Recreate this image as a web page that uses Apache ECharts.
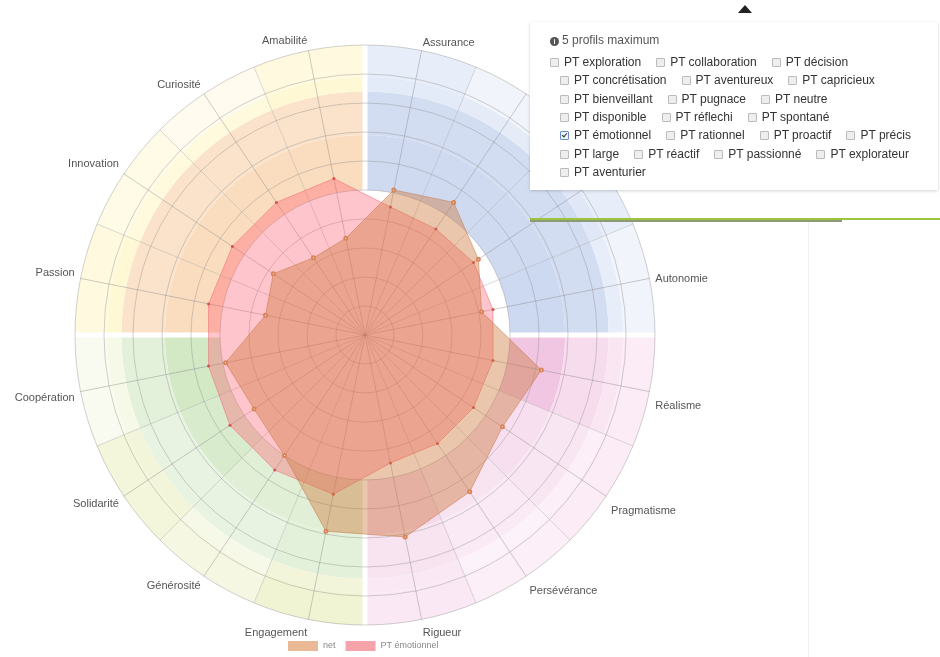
<!DOCTYPE html>
<html><head><meta charset="utf-8">
<script src="https://cdn.jsdelivr.net/npm/echarts@6/dist/echarts.min.js"></script>
<style>
html,body{margin:0;padding:0;background:#fff;width:940px;height:657px;overflow:hidden;font-family:"Liberation Sans",Arial,sans-serif;}
#chart{position:absolute;left:0;top:0;width:940px;height:657px;}
#popup{position:absolute;left:530px;top:22px;width:408px;height:168px;background:#fff;box-shadow:0 1px 3px rgba(0,0,0,0.18);}
.row{position:absolute;height:16px;line-height:16px;font-size:12px;color:#333;white-space:nowrap;}
.item{display:inline-block;margin-right:15px;}
.cb{display:inline-block;width:7px;height:7px;border:1px solid #bbb;background:#eee;border-radius:1px;vertical-align:-1px;margin-right:5px;position:relative;}
.cb.on{border-color:#6a8fc8;background:#eef3fb;}
.cb.on:after{content:"";position:absolute;left:2px;top:0px;width:2px;height:4px;border:solid #333;border-width:0 1.5px 1.5px 0;transform:rotate(40deg);}
#head{position:absolute;left:550px;top:32px;font-size:12px;color:#555;line-height:16px;white-space:nowrap;}
#head .ic{display:inline-block;width:9px;height:9px;border-radius:50%;background:#555;color:#fff;font-size:7px;line-height:9px;text-align:center;font-weight:bold;margin-right:3px;vertical-align:0px;}
#green1{position:absolute;left:530px;top:218px;width:410px;height:2px;background:#9cc43e;}
#green2{position:absolute;left:530px;top:220px;width:312px;height:2px;background:#8c9a78;}
#vline{position:absolute;left:808px;top:222px;width:1px;height:435px;background:#efefef;}
#arrow{position:absolute;left:738px;top:5px;width:0;height:0;border-left:7px solid transparent;border-right:7px solid transparent;border-bottom:8px solid #222;}
</style>
</head>
<body>
<div id="chart"></div>
<div id="vline"></div>
<div id="arrow"></div>
<div id="popup"></div>
<div id="head"><span class="ic">i</span>5 profils maximum</div>
<div id="green1"></div><div id="green2"></div>
<script>
// Axis names, clockwise from top-right (two axes hidden behind the panel)
const axisNames = ['Assurance','','','Autonomie','Réalisme','Pragmatisme','Persévérance','Rigueur','Engagement','Générosité','Solidarité','Coopération','Passion','Innovation','Curiosité','Amabilité'];
const netValues = [5.1,5.5,4.7,4.1,6.2,5.7,6.5,7.1,6.9,5.0,4.6,4.9,3.5,3.8,3.2,3.4];
const emoValues = [4.5,4.4,4.5,4.5,4.5,4.5,4.5,4.5,5.6,5.6,5.6,5.5,5.5,5.5,5.5,5.5];
const maxValue = 10;
// background bands (radius edges) and their shade per sector (inner -> outer)
const bandEdges = [5, 6.9, 8.4, 8.9, 10];
const bandShade = [
  [0.72,0.66,0.5,0.4],[0.72,0.66,0.45,0.25],[0.72,0.66,0.55,0.4],[0.75,0.66,0.4,0.25],
  [0.8,0.5,0.4,0.3],[0.45,0.35,0.25,0.3],[0.4,0.3,0.2,0.25],[0.55,0.4,0.35,0.35],
  [0.5,0.5,0.5,0.6],[0.5,0.4,0.3,0.4],[0.6,0.4,0.5,0.5],[0.7,0.5,0.3,0.2],
  [0.7,0.6,0.5,0.4],[0.7,0.6,0.4,0.3],[0.7,0.6,0.4,0.2],[0.7,0.6,0.5,0.4]
];
const quadrantNames = ['q1','q2','q3','q4'];
const profileRows = [
  ['PT exploration','PT collaboration','PT décision'],
  ['PT concrétisation','PT aventureux','PT capricieux'],
  ['PT bienveillant','PT pugnace','PT neutre'],
  ['PT disponible','PT réflechi','PT spontané'],
  ['PT émotionnel','PT rationnel','PT proactif','PT précis'],
  ['PT large','PT réactif','PT passionné','PT explorateur'],
  ['PT aventurier']
];
const checkedProfiles = ['PT émotionnel'];

// ---- panel
profileRows.forEach((row, r) => {
  const d = document.createElement('div');
  d.className = 'row';
  d.style.left = (r === 0 ? 550 : 560) + 'px';
  d.style.top = (54 + r * 18.3) + 'px';
  row.forEach(name => {
    const it = document.createElement('span'); it.className = 'item';
    const cb = document.createElement('span'); cb.className = 'cb' + (checkedProfiles.includes(name) ? ' on' : '');
    const tx = document.createElement('span'); tx.textContent = name;
    it.appendChild(cb); it.appendChild(tx); d.appendChild(it);
  });
  document.body.appendChild(d);
});

// ---- chart
const quadBase = [
  [[188,203,236],[188,203,236],[198,212,240],[198,212,240]],
  [[238,184,220],[238,184,220],[242,192,224],[242,192,224]],
  [[192,222,172],[200,226,180],[228,234,178],[232,236,182]],
  [[248,206,164],[248,208,168],[255,240,170],[255,242,174]]
];
function mix(c, t){ return 'rgb(' + c.map(v => Math.round(255 + (v - 255) * t)).join(',') + ')'; }
const ccw = a => [a[0]].concat(a.slice(1).reverse());
const indicator = ccw(axisNames).map(n => ({name: n, max: maxValue}));
const center = [365, 335], radius = 290;

// label nudges (style): positive = spacer line above (moves down), negative = spacer below (moves up)
const nameNudge = {'Assurance':-4,'Autonomie':4,'Réalisme':26,'Pragmatisme':24,'Persévérance':20,'Rigueur':16,
  'Engagement':16,'Générosité':10,'Solidarité':10,'Coopération':10,'Passion':-8,'Innovation':-14,'Curiosité':-8,'Amabilité':-8};
const richSpacers = {};
Object.values(nameNudge).forEach(v => { richSpacers['s' + Math.abs(v)] = {fontSize:1, lineHeight:Math.abs(v)}; });
function nameFormatter(name) {
  if (!name) return '';
  const v = nameNudge[name] || 0;
  if (v > 0) return '{s' + v + '| }\n' + name;
  if (v < 0) return name + '\n{s' + (-v) + '| }';
  return name;
}

const bandSeries = [{
  type:'bar', coordinateSystem:'polar', polarIndex:0, stack:'bg', silent:true, z:1,
  barCategoryGap:'0%', itemStyle:{color:'rgba(0,0,0,0)'},
  data: axisNames.map(() => bandEdges[0])
}];
for (let b = 0; b < 4; b++) {
  bandSeries.push({
    type:'bar', coordinateSystem:'polar', polarIndex:0, stack:'bg', silent:true, z:1,
    barCategoryGap:'0%',
    data: axisNames.map((n, i) => ({
      value: +(bandEdges[b+1] - bandEdges[b]).toFixed(2),
      itemStyle:{color: mix(quadBase[Math.floor(i/4)][b], bandShade[i][b])}
    }))
  });
}

const chart = echarts.init(document.getElementById('chart'), null, {renderer:'canvas'});
chart.setOption({
  animation:false,
  textStyle:{fontFamily:'"Liberation Sans", Arial, sans-serif'},
  polar:[{center:center, radius:radius},{center:center, radius:radius}],
  angleAxis:[
    {polarIndex:0, type:'category', data:axisNames.map((n,i)=>'s'+i), startAngle:90, clockwise:true, z:3,
     axisLine:{show:false}, axisTick:{show:false}, axisLabel:{show:false},
     splitLine:{show:true, lineStyle:{color:'rgba(150,150,150,0.35)', width:1}}},
    {polarIndex:1, type:'category', data:quadrantNames, startAngle:90, clockwise:true, z:4,
     axisLine:{show:false}, axisTick:{show:false}, axisLabel:{show:false},
     splitLine:{show:true, lineStyle:{color:'#ffffff', width:5}}}
  ],
  radiusAxis:[
    {polarIndex:0, type:'value', min:0, max:maxValue, axisLine:{show:false}, axisTick:{show:false}, axisLabel:{show:false}, splitLine:{show:false}},
    {polarIndex:1, type:'value', min:0, max:maxValue, axisLine:{show:false}, axisTick:{show:false}, axisLabel:{show:false}, splitLine:{show:false}}
  ],
  radar:{
    center:center, radius:radius, startAngle:78.75, shape:'circle', splitNumber:10, z:5,
    indicator:indicator, axisNameGap:6,
    axisName:{color:'#555', fontSize:11, lineHeight:13, fontFamily:'"Liberation Sans", Arial, sans-serif',
      formatter: nameFormatter, rich: richSpacers},
    splitLine:{lineStyle:{color:'rgba(140,140,140,0.4)', width:1}},
    splitArea:{show:false},
    axisLine:{lineStyle:{color:'rgba(140,140,140,0.45)', width:1}},
    axisTick:{show:false}, axisLabel:{show:false}
  },
  legend:{
    left:283, top:636, itemWidth:30, itemHeight:10, itemGap:10, icon:'rect',
    textStyle:{fontSize:9, color:'#888'},
    data:[{name:'net', itemStyle:{color:'#e9b895', borderWidth:0}},
          {name:'PT émotionnel', itemStyle:{color:'#f7a3ab', borderWidth:0}}]
  },
  series: bandSeries.concat([
    {type:'radar', name:'PT émotionnel', z:6, symbol:'circle', symbolSize:3,
     itemStyle:{color:'#d9534f'},
     lineStyle:{color:'rgba(235,100,110,0.5)', width:1},
     areaStyle:{color:'rgba(255,90,110,0.5)'},
     data:[{name:'PT émotionnel', value: ccw(emoValues)}]},
    {type:'radar', name:'net', z:7, symbol:'emptyCircle', symbolSize:3,
     itemStyle:{color:'#d9855a', borderWidth:1},
     lineStyle:{color:'rgba(195,115,70,0.5)', width:1},
     areaStyle:{color:'rgba(205,120,60,0.6)'},
     data:[{name:'net', value: ccw(netValues)}]}
  ])
});
</script>
</body></html>
